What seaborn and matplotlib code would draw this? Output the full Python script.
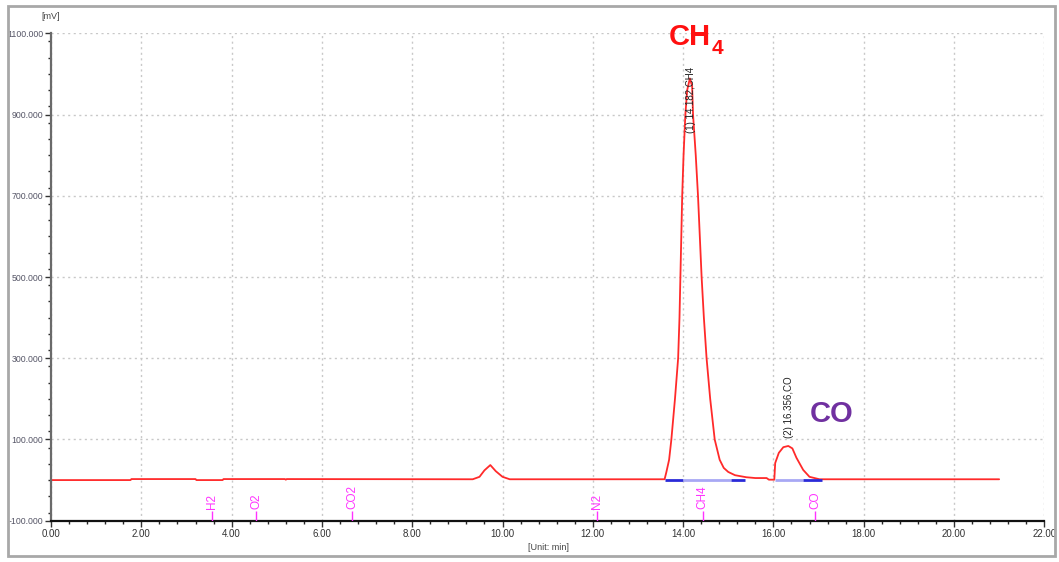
import pandas as pd
import seaborn as sns
import matplotlib.pyplot as plt
from matplotlib.patches import Rectangle
from matplotlib.ticker import MultipleLocator, FormatStrFormatter

# Chromatogram trace (time in min, signal in mV)
time_min = [0.00, 1.76, 1.78, 3.20, 3.22, 3.80, 3.82, 5.18, 5.20, 5.22,
            9.34, 9.49, 9.60, 9.73, 9.85, 10.00, 10.16,
            13.59, 13.63, 13.69, 13.74, 13.82, 13.89, 13.92, 13.94, 13.96,
            13.98, 14.01, 14.05, 14.09, 14.15, 14.20, 14.22, 14.28, 14.33,
            14.37, 14.41, 14.46, 14.52, 14.60, 14.70, 14.81, 14.90, 15.00,
            15.15, 15.25, 15.40, 15.60, 15.85, 15.90, 16.02, 16.04, 16.12,
            16.22, 16.33, 16.42, 16.51, 16.66, 16.80, 17.02, 21.00]
signal_mv = [0, 0, 2.5, 2.5, 0, 0, 2.5, 2.5, 1, 2.5,
             2, 8, 24, 37, 22, 8, 2,
             2, 20, 50, 100, 200, 300, 400, 500, 600,
             700, 800, 900, 960, 989, 970, 900, 800, 700,
             600, 500, 400, 300, 200, 100, 50, 30, 20,
             12, 10, 7, 5, 5, 1, 1, 42, 67,
             81, 84, 78, 55, 25, 8, 2, 2]

# integration baselines
base_start = [13.59, 14.00, 15.07, 16.03, 16.66]
base_end = [14.00, 15.07, 15.37, 16.66, 17.07]
base_color = ["#2a2ad8", "#a8a8f4", "#2a2ad8", "#a8a8f4", "#2a2ad8"]

# expected retention-time markers
marker_names = ["H2", "O2", "CO2", "N2", "CH4", "CO"]
marker_times = [3.56, 4.54, 6.67, 12.10, 14.43, 16.92]

# peak labels
peak_labels = ["(1) 14.182,CH4", "(2) 16.356,CO"]
peak_times = [14.18, 16.35]
peak_label_y = [855, 104]

df = pd.DataFrame({"time": time_min, "signal": signal_mv})

sns.set_style("white")
plt.rcParams['font.family'] = ['Liberation Sans', 'DejaVu Sans']
narrow = ['Liberation Sans Narrow', 'Liberation Sans', 'DejaVu Sans']

fig = plt.figure(figsize=(10.59, 5.62), dpi=100)
ax = fig.add_axes([0.0482, 0.0735, 0.9379, 0.8672])

sns.lineplot(data=df, x="time", y="signal", color="#ff2a2a", lw=1.3, ax=ax)

for s, e, c in zip(base_start, base_end, base_color):
    ax.hlines(1, s, e, color=c, lw=2, zorder=3)

for name, t in zip(marker_names, marker_times):
    ax.vlines(t, -100, -75, color="#ff33ff", lw=1, zorder=3)
    ax.text(t, -72, name, rotation=90, ha="center", va="bottom",
            color="#ff33ff", fontsize=8.5)

for lab, t, y in zip(peak_labels, peak_times, peak_label_y):
    ax.text(t, y, lab, rotation=90, ha="center", va="bottom",
            color="#222222", fontsize=7)

ax.text(13.68, 1071, "CH", color="#ff1010", fontsize=21, fontweight="bold",
        ha="left", va="baseline")
ax.text(14.64, 1050, "4", color="#ff1010", fontsize=15, fontweight="bold",
        ha="left", va="baseline")
ax.text(16.81, 144, "CO", color="#7030a0", fontsize=21, fontweight="bold",
        ha="left", va="baseline")

ax.set_xlim(0, 22)
ax.set_ylim(-100, 1100)
ax.xaxis.set_major_locator(MultipleLocator(2))
ax.xaxis.set_minor_locator(MultipleLocator(0.4))
ax.yaxis.set_minor_locator(MultipleLocator(40))
ax.set_yticks(range(-100, 1101, 200))
ax.xaxis.set_major_formatter(FormatStrFormatter("%.2f"))
ax.yaxis.set_major_formatter(FormatStrFormatter("%.3f"))

ax.grid(True, which="major", color="#c8c8c8", linestyle=(0, (1.5, 2.5)), lw=1)
ax.tick_params(which="major", direction="out", length=4, width=1,
               colors="#333333", bottom=True, left=True)
ax.tick_params(which="minor", direction="out", length=2.5, width=1,
               bottom=True, left=True)
ax.tick_params(axis="y", labelcolor="#555566", pad=1.5)
ax.tick_params(axis="x", pad=2)
for lbl in ax.get_xticklabels():
    lbl.set_family(narrow)
    lbl.set_fontsize(7)
for lbl in ax.get_yticklabels():
    lbl.set_family(narrow)
    lbl.set_fontsize(6.3)

for side in ["top", "right"]:
    ax.spines[side].set_visible(False)
ax.spines["left"].set_color("#6a6a6a")
ax.spines["left"].set_linewidth(1.6)
ax.spines["bottom"].set_color("#111111")
ax.spines["bottom"].set_linewidth(1.6)

ax.set_xlabel("")
ax.set_ylabel("")
fig.text(0.0482, 0.970, "[mV]", fontsize=6.5, color="#444444", ha="center",
         va="center", family=narrow)
fig.text(0.518, 0.025, "[Unit: min]", fontsize=6.5, color="#444444",
         ha="center", va="center", family=narrow)

# window frame around the chart
fig.patches.append(Rectangle((8 / 1059, 6 / 562), 1047 / 1059, 550 / 562,
                             transform=fig.transFigure, fill=False,
                             edgecolor="#a8a8a8", lw=2))

fig.savefig("out.png", dpi=100)
